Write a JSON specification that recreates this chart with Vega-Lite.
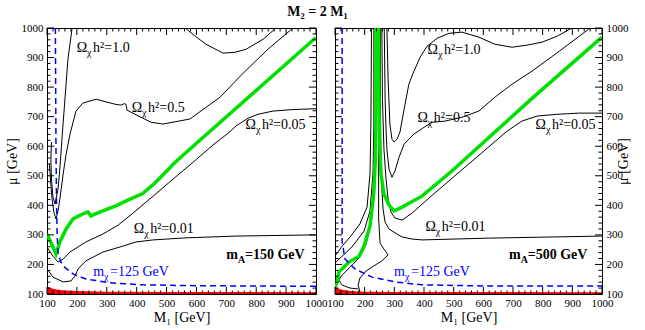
{
  "$schema": "https://vega.github.io/schema/vega-lite/v6.json",
  "padding": {"left": 4, "top": 4, "right": 0, "bottom": 2},
  "title": {"text": "M₂ = 2 M₁", "font": "Liberation Serif", "fontSize": 14, "fontWeight": "bold", "anchor": "middle", "offset": 3, "color": "black"},
  "spacing": 19,
  "bounds": "flush",
  "datasets": {
    "tickvals": [
      {"v":100,"major":true},{"v":120,"major":false},{"v":140,"major":false},{"v":160,"major":false},{"v":180,"major":false},
      {"v":200,"major":true},{"v":220,"major":false},{"v":240,"major":false},{"v":260,"major":false},{"v":280,"major":false},
      {"v":300,"major":true},{"v":320,"major":false},{"v":340,"major":false},{"v":360,"major":false},{"v":380,"major":false},
      {"v":400,"major":true},{"v":420,"major":false},{"v":440,"major":false},{"v":460,"major":false},{"v":480,"major":false},
      {"v":500,"major":true},{"v":520,"major":false},{"v":540,"major":false},{"v":560,"major":false},{"v":580,"major":false},
      {"v":600,"major":true},{"v":620,"major":false},{"v":640,"major":false},{"v":660,"major":false},{"v":680,"major":false},
      {"v":700,"major":true},{"v":720,"major":false},{"v":740,"major":false},{"v":760,"major":false},{"v":780,"major":false},
      {"v":800,"major":true},{"v":820,"major":false},{"v":840,"major":false},{"v":860,"major":false},{"v":880,"major":false},
      {"v":900,"major":true},{"v":920,"major":false},{"v":940,"major":false},{"v":960,"major":false},{"v":980,"major":false},
      {"v":1000,"major":true}
    ],
    "lep": [
      {"panel":"L","M1":100,"mu":125},{"panel":"L","M1":120,"mu":118},{"panel":"L","M1":150,"mu":113},{"panel":"L","M1":200,"mu":110},{"panel":"L","M1":300,"mu":108},{"panel":"L","M1":500,"mu":107},{"panel":"L","M1":1000,"mu":106},
      {"panel":"R","M1":100,"mu":124},{"panel":"R","M1":120,"mu":115},{"panel":"R","M1":150,"mu":110},{"panel":"R","M1":200,"mu":108},{"panel":"R","M1":300,"mu":107},{"panel":"R","M1":1000,"mu":106}
    ],
    "contours": [
      {"panel":"L","curve":"1.0a","ord":1,"M1":184,"mu":1000},{"panel":"L","curve":"1.0a","ord":2,"M1":170,"mu":894},{"panel":"L","curve":"1.0a","ord":3,"M1":160,"mu":759},{"panel":"L","curve":"1.0a","ord":4,"M1":150,"mu":624},{"panel":"L","curve":"1.0a","ord":5,"M1":143,"mu":523},{"panel":"L","curve":"1.0a","ord":6,"M1":137,"mu":455},{"panel":"L","curve":"1.0a","ord":7,"M1":130,"mu":421},{"panel":"L","curve":"1.0a","ord":8,"M1":127,"mu":404},{"panel":"L","curve":"1.0a","ord":9,"M1":120,"mu":428},{"panel":"L","curve":"1.0a","ord":10,"M1":115,"mu":489},{"panel":"L","curve":"1.0a","ord":11,"M1":113,"mu":556},{"panel":"L","curve":"1.0a","ord":12,"M1":115,"mu":614},
      {"panel":"L","curve":"1.0b","ord":1,"M1":562,"mu":1000},{"panel":"L","curve":"1.0b","ord":2,"M1":595,"mu":973},{"panel":"L","curve":"1.0b","ord":3,"M1":632,"mu":945},{"panel":"L","curve":"1.0b","ord":4,"M1":689,"mu":915},{"panel":"L","curve":"1.0b","ord":5,"M1":729,"mu":918},{"panel":"L","curve":"1.0b","ord":6,"M1":766,"mu":928},{"panel":"L","curve":"1.0b","ord":7,"M1":823,"mu":962},{"panel":"L","curve":"1.0b","ord":8,"M1":866,"mu":1000},
      {"panel":"L","curve":"0.5","ord":1,"M1":923,"mu":1000},{"panel":"L","curve":"0.5","ord":2,"M1":839,"mu":928},{"panel":"L","curve":"0.5","ord":3,"M1":756,"mu":847},{"panel":"L","curve":"0.5","ord":4,"M1":679,"mu":766},{"panel":"L","curve":"0.5","ord":5,"M1":578,"mu":692},{"panel":"L","curve":"0.5","ord":6,"M1":488,"mu":675},{"panel":"L","curve":"0.5","ord":7,"M1":448,"mu":681},{"panel":"L","curve":"0.5","ord":8,"M1":381,"mu":715},{"panel":"L","curve":"0.5","ord":9,"M1":368,"mu":722},{"panel":"L","curve":"0.5","ord":10,"M1":364,"mu":742},{"panel":"L","curve":"0.5","ord":11,"M1":358,"mu":744},{"panel":"L","curve":"0.5","ord":12,"M1":348,"mu":739},{"panel":"L","curve":"0.5","ord":13,"M1":328,"mu":742},{"panel":"L","curve":"0.5","ord":14,"M1":264,"mu":759},{"panel":"L","curve":"0.5","ord":15,"M1":220,"mu":746},{"panel":"L","curve":"0.5","ord":16,"M1":197,"mu":719},{"panel":"L","curve":"0.5","ord":17,"M1":177,"mu":641},{"panel":"L","curve":"0.5","ord":18,"M1":164,"mu":573},{"panel":"L","curve":"0.5","ord":19,"M1":154,"mu":506},{"panel":"L","curve":"0.5","ord":20,"M1":143,"mu":421},{"panel":"L","curve":"0.5","ord":21,"M1":137,"mu":381},{"panel":"L","curve":"0.5","ord":22,"M1":130,"mu":354},{"panel":"L","curve":"0.5","ord":23,"M1":123,"mu":377},{"panel":"L","curve":"0.5","ord":24,"M1":117,"mu":421},{"panel":"L","curve":"0.5","ord":25,"M1":112,"mu":482},{"panel":"L","curve":"0.5","ord":26,"M1":108,"mu":539},
      {"panel":"L","curve":"0.05","ord":1,"M1":100,"mu":259},{"panel":"L","curve":"0.05","ord":2,"M1":120,"mu":228},{"panel":"L","curve":"0.05","ord":3,"M1":137,"mu":208},{"panel":"L","curve":"0.05","ord":4,"M1":154,"mu":218},{"panel":"L","curve":"0.05","ord":5,"M1":177,"mu":242},{"panel":"L","curve":"0.05","ord":6,"M1":230,"mu":276},{"panel":"L","curve":"0.05","ord":7,"M1":287,"mu":303},{"panel":"L","curve":"0.05","ord":8,"M1":338,"mu":333},{"panel":"L","curve":"0.05","ord":9,"M1":388,"mu":374},{"panel":"L","curve":"0.05","ord":10,"M1":455,"mu":431},{"panel":"L","curve":"0.05","ord":11,"M1":522,"mu":489},{"panel":"L","curve":"0.05","ord":12,"M1":589,"mu":546},{"panel":"L","curve":"0.05","ord":13,"M1":655,"mu":604},{"panel":"L","curve":"0.05","ord":14,"M1":706,"mu":644},{"panel":"L","curve":"0.05","ord":15,"M1":732,"mu":668},{"panel":"L","curve":"0.05","ord":16,"M1":773,"mu":695},{"panel":"L","curve":"0.05","ord":17,"M1":806,"mu":708},{"panel":"L","curve":"0.05","ord":18,"M1":856,"mu":719},{"panel":"L","curve":"0.05","ord":19,"M1":923,"mu":724},{"panel":"L","curve":"0.05","ord":20,"M1":1000,"mu":727},
      {"panel":"L","curve":"0.01","ord":1,"M1":100,"mu":185},{"panel":"L","curve":"0.01","ord":2,"M1":120,"mu":157},{"panel":"L","curve":"0.01","ord":3,"M1":154,"mu":141},{"panel":"L","curve":"0.01","ord":4,"M1":180,"mu":144},{"panel":"L","curve":"0.01","ord":5,"M1":194,"mu":161},{"panel":"L","curve":"0.01","ord":6,"M1":204,"mu":185},{"panel":"L","curve":"0.01","ord":7,"M1":230,"mu":212},{"panel":"L","curve":"0.01","ord":8,"M1":287,"mu":242},{"panel":"L","curve":"0.01","ord":9,"M1":344,"mu":259},{"panel":"L","curve":"0.01","ord":10,"M1":398,"mu":276},{"panel":"L","curve":"0.01","ord":11,"M1":455,"mu":283},{"panel":"L","curve":"0.01","ord":12,"M1":565,"mu":290},{"panel":"L","curve":"0.01","ord":13,"M1":732,"mu":296},{"panel":"L","curve":"0.01","ord":14,"M1":1000,"mu":300},
      {"panel":"R","curve":"1.0L","ord":1,"M1":100,"mu":228},{"panel":"R","curve":"1.0L","ord":2,"M1":124,"mu":262},{"panel":"R","curve":"1.0L","ord":3,"M1":151,"mu":293},{"panel":"R","curve":"1.0L","ord":4,"M1":184,"mu":337},{"panel":"R","curve":"1.0L","ord":5,"M1":208,"mu":394},{"panel":"R","curve":"1.0L","ord":6,"M1":218,"mu":506},{"panel":"R","curve":"1.0L","ord":7,"M1":221,"mu":675},{"panel":"R","curve":"1.0L","ord":8,"M1":223,"mu":1000},
      {"panel":"R","curve":"0.5L","ord":1,"M1":100,"mu":205},{"panel":"R","curve":"0.5L","ord":2,"M1":157,"mu":259},{"panel":"R","curve":"0.5L","ord":3,"M1":198,"mu":313},{"panel":"R","curve":"0.5L","ord":4,"M1":218,"mu":381},{"panel":"R","curve":"0.5L","ord":5,"M1":228,"mu":506},{"panel":"R","curve":"0.5L","ord":6,"M1":231,"mu":675},{"panel":"R","curve":"0.5L","ord":7,"M1":231,"mu":1000},
      {"panel":"R","curve":"0.05L","ord":1,"M1":241,"mu":1000},{"panel":"R","curve":"0.05L","ord":2,"M1":240,"mu":759},{"panel":"R","curve":"0.05L","ord":3,"M1":238,"mu":556},{"panel":"R","curve":"0.05L","ord":4,"M1":231,"mu":421},{"panel":"R","curve":"0.05L","ord":5,"M1":221,"mu":337},{"panel":"R","curve":"0.05L","ord":6,"M1":205,"mu":269},{"panel":"R","curve":"0.05L","ord":7,"M1":184,"mu":225},{"panel":"R","curve":"0.05L","ord":8,"M1":151,"mu":191},{"panel":"R","curve":"0.05L","ord":9,"M1":124,"mu":164},{"panel":"R","curve":"0.05L","ord":10,"M1":113,"mu":147},{"panel":"R","curve":"0.05L","ord":11,"M1":124,"mu":130},{"panel":"R","curve":"0.05L","ord":12,"M1":151,"mu":120},{"panel":"R","curve":"0.05L","ord":13,"M1":178,"mu":117},
      {"panel":"R","curve":"0.01L","ord":1,"M1":184,"mu":107},{"panel":"R","curve":"0.01L","ord":2,"M1":178,"mu":130},{"panel":"R","curve":"0.01L","ord":3,"M1":184,"mu":154},{"panel":"R","curve":"0.01L","ord":4,"M1":205,"mu":178},{"panel":"R","curve":"0.01L","ord":5,"M1":231,"mu":195},{"panel":"R","curve":"0.01L","ord":6,"M1":258,"mu":212},{"panel":"R","curve":"0.01L","ord":7,"M1":279,"mu":232},{"panel":"R","curve":"0.01L","ord":8,"M1":265,"mu":252},{"panel":"R","curve":"0.01L","ord":9,"M1":252,"mu":272},{"panel":"R","curve":"0.01L","ord":10,"M1":247,"mu":354},{"panel":"R","curve":"0.01L","ord":11,"M1":247,"mu":590},{"panel":"R","curve":"0.01L","ord":12,"M1":247,"mu":1000},
      {"panel":"R","curve":"0.01R","ord":1,"M1":1000,"mu":296},{"panel":"R","curve":"0.01R","ord":2,"M1":619,"mu":289},{"panel":"R","curve":"0.01R","ord":3,"M1":505,"mu":286},{"panel":"R","curve":"0.01R","ord":4,"M1":393,"mu":283},{"panel":"R","curve":"0.01R","ord":5,"M1":360,"mu":286},{"panel":"R","curve":"0.01R","ord":6,"M1":326,"mu":293},{"panel":"R","curve":"0.01R","ord":7,"M1":309,"mu":303},{"panel":"R","curve":"0.01R","ord":8,"M1":282,"mu":320},{"panel":"R","curve":"0.01R","ord":9,"M1":269,"mu":343},{"panel":"R","curve":"0.01R","ord":10,"M1":262,"mu":387},{"panel":"R","curve":"0.01R","ord":11,"M1":258,"mu":455},{"panel":"R","curve":"0.01R","ord":12,"M1":255,"mu":556},{"panel":"R","curve":"0.01R","ord":13,"M1":253,"mu":759},{"panel":"R","curve":"0.01R","ord":14,"M1":253,"mu":1000},
      {"panel":"R","curve":"0.05R","ord":1,"M1":258,"mu":1000},{"panel":"R","curve":"0.05R","ord":2,"M1":260,"mu":759},{"panel":"R","curve":"0.05R","ord":3,"M1":265,"mu":590},{"panel":"R","curve":"0.05R","ord":4,"M1":272,"mu":489},{"panel":"R","curve":"0.05R","ord":5,"M1":279,"mu":421},{"panel":"R","curve":"0.05R","ord":6,"M1":289,"mu":377},{"panel":"R","curve":"0.05R","ord":7,"M1":302,"mu":357},{"panel":"R","curve":"0.05R","ord":8,"M1":326,"mu":350},{"panel":"R","curve":"0.05R","ord":9,"M1":360,"mu":374},{"panel":"R","curve":"0.05R","ord":10,"M1":417,"mu":425},{"panel":"R","curve":"0.05R","ord":11,"M1":538,"mu":529},{"panel":"R","curve":"0.05R","ord":12,"M1":629,"mu":607},{"panel":"R","curve":"0.05R","ord":13,"M1":680,"mu":651},{"panel":"R","curve":"0.05R","ord":14,"M1":730,"mu":685},{"panel":"R","curve":"0.05R","ord":15,"M1":781,"mu":702},{"panel":"R","curve":"0.05R","ord":16,"M1":848,"mu":708},{"panel":"R","curve":"0.05R","ord":17,"M1":923,"mu":712},{"panel":"R","curve":"0.05R","ord":18,"M1":1000,"mu":712},
      {"panel":"R","curve":"0.5R","ord":1,"M1":266,"mu":1000},{"panel":"R","curve":"0.5R","ord":2,"M1":269,"mu":759},{"panel":"R","curve":"0.5R","ord":3,"M1":272,"mu":658},{"panel":"R","curve":"0.5R","ord":4,"M1":275,"mu":590},{"panel":"R","curve":"0.5R","ord":5,"M1":282,"mu":523},{"panel":"R","curve":"0.5R","ord":6,"M1":292,"mu":495},{"panel":"R","curve":"0.5R","ord":7,"M1":302,"mu":516},{"panel":"R","curve":"0.5R","ord":8,"M1":316,"mu":563},{"panel":"R","curve":"0.5R","ord":9,"M1":333,"mu":607},{"panel":"R","curve":"0.5R","ord":10,"M1":366,"mu":641},{"panel":"R","curve":"0.5R","ord":11,"M1":400,"mu":664},{"panel":"R","curve":"0.5R","ord":12,"M1":427,"mu":681},{"panel":"R","curve":"0.5R","ord":13,"M1":471,"mu":685},{"panel":"R","curve":"0.5R","ord":14,"M1":528,"mu":698},{"panel":"R","curve":"0.5R","ord":15,"M1":585,"mu":719},{"panel":"R","curve":"0.5R","ord":16,"M1":639,"mu":766},{"panel":"R","curve":"0.5R","ord":17,"M1":697,"mu":810},{"panel":"R","curve":"0.5R","ord":18,"M1":764,"mu":854},{"panel":"R","curve":"0.5R","ord":19,"M1":865,"mu":928},{"panel":"R","curve":"0.5R","ord":20,"M1":960,"mu":1000},
      {"panel":"R","curve":"1.0R","ord":1,"M1":275,"mu":1000},{"panel":"R","curve":"1.0R","ord":2,"M1":279,"mu":827},{"panel":"R","curve":"1.0R","ord":3,"M1":285,"mu":675},{"panel":"R","curve":"1.0R","ord":4,"M1":292,"mu":624},{"panel":"R","curve":"1.0R","ord":5,"M1":299,"mu":614},{"panel":"R","curve":"1.0R","ord":6,"M1":309,"mu":624},{"panel":"R","curve":"1.0R","ord":7,"M1":319,"mu":648},{"panel":"R","curve":"1.0R","ord":8,"M1":333,"mu":725},{"panel":"R","curve":"1.0R","ord":9,"M1":349,"mu":810},{"panel":"R","curve":"1.0R","ord":10,"M1":366,"mu":854},{"panel":"R","curve":"1.0R","ord":11,"M1":387,"mu":901},{"panel":"R","curve":"1.0R","ord":12,"M1":410,"mu":938},{"panel":"R","curve":"1.0R","ord":13,"M1":444,"mu":965},{"panel":"R","curve":"1.0R","ord":14,"M1":484,"mu":982},{"panel":"R","curve":"1.0R","ord":15,"M1":528,"mu":986},{"panel":"R","curve":"1.0R","ord":16,"M1":585,"mu":969},{"panel":"R","curve":"1.0R","ord":17,"M1":639,"mu":945},{"panel":"R","curve":"1.0R","ord":18,"M1":697,"mu":935},{"panel":"R","curve":"1.0R","ord":19,"M1":747,"mu":942},{"panel":"R","curve":"1.0R","ord":20,"M1":798,"mu":952},{"panel":"R","curve":"1.0R","ord":21,"M1":848,"mu":972},{"panel":"R","curve":"1.0R","ord":22,"M1":899,"mu":1000}
    ],
    "relic": [
      {"panel":"L","curve":"g","ord":1,"M1":100,"mu":303},{"panel":"L","curve":"g","ord":2,"M1":115,"mu":270},{"panel":"L","curve":"g","ord":3,"M1":130,"mu":235},{"panel":"L","curve":"g","ord":4,"M1":143,"mu":276},{"panel":"L","curve":"g","ord":5,"M1":164,"mu":320},{"panel":"L","curve":"g","ord":6,"M1":187,"mu":354},{"panel":"L","curve":"g","ord":7,"M1":210,"mu":366},{"panel":"L","curve":"g","ord":8,"M1":227,"mu":374},{"panel":"L","curve":"g","ord":9,"M1":237,"mu":378},{"panel":"L","curve":"g","ord":10,"M1":247,"mu":364},{"panel":"L","curve":"g","ord":11,"M1":260,"mu":370},{"panel":"L","curve":"g","ord":12,"M1":287,"mu":381},{"panel":"L","curve":"g","ord":13,"M1":330,"mu":398},{"panel":"L","curve":"g","ord":14,"M1":378,"mu":421},{"panel":"L","curve":"g","ord":15,"M1":420,"mu":440},{"panel":"L","curve":"g","ord":16,"M1":455,"mu":470},{"panel":"L","curve":"g","ord":17,"M1":490,"mu":505},{"panel":"L","curve":"g","ord":18,"M1":528,"mu":545},{"panel":"L","curve":"g","ord":19,"M1":600,"mu":610},{"panel":"L","curve":"g","ord":20,"M1":1000,"mu":968},
      {"panel":"R","curve":"gL","ord":1,"M1":100,"mu":124},{"panel":"R","curve":"gL","ord":2,"M1":107,"mu":141},{"panel":"R","curve":"gL","ord":3,"M1":113,"mu":174},{"panel":"R","curve":"gL","ord":4,"M1":147,"mu":208},{"panel":"R","curve":"gL","ord":5,"M1":181,"mu":228},{"panel":"R","curve":"gL","ord":6,"M1":198,"mu":262},{"panel":"R","curve":"gL","ord":7,"M1":218,"mu":330},{"panel":"R","curve":"gL","ord":8,"M1":231,"mu":445},{"panel":"R","curve":"gL","ord":9,"M1":236,"mu":556},{"panel":"R","curve":"gL","ord":10,"M1":238,"mu":759},{"panel":"R","curve":"gL","ord":11,"M1":238,"mu":1000},
      {"panel":"R","curve":"gR","ord":1,"M1":247,"mu":1000},{"panel":"R","curve":"gR","ord":2,"M1":248,"mu":759},{"panel":"R","curve":"gR","ord":3,"M1":250,"mu":624},{"panel":"R","curve":"gR","ord":4,"M1":255,"mu":506},{"panel":"R","curve":"gR","ord":5,"M1":265,"mu":438},{"panel":"R","curve":"gR","ord":6,"M1":282,"mu":401},{"panel":"R","curve":"gR","ord":7,"M1":299,"mu":381},{"panel":"R","curve":"gR","ord":8,"M1":326,"mu":394},{"panel":"R","curve":"gR","ord":9,"M1":393,"mu":431},{"panel":"R","curve":"gR","ord":10,"M1":494,"mu":516},{"panel":"R","curve":"gR","ord":11,"M1":764,"mu":762},{"panel":"R","curve":"gR","ord":12,"M1":1000,"mu":969}
    ],
    "mchi": [
      {"panel":"L","ord":1,"M1":128,"mu":1000},{"panel":"L","ord":2,"M1":130,"mu":600},{"panel":"L","ord":3,"M1":132,"mu":400},{"panel":"L","ord":4,"M1":134,"mu":300},{"panel":"L","ord":5,"M1":137,"mu":240},{"panel":"L","ord":6,"M1":145,"mu":212},{"panel":"L","ord":7,"M1":154,"mu":195},{"panel":"L","ord":8,"M1":187,"mu":168},{"panel":"L","ord":9,"M1":230,"mu":151},{"panel":"L","ord":10,"M1":311,"mu":138},{"panel":"L","ord":11,"M1":421,"mu":131},{"panel":"L","ord":12,"M1":600,"mu":128},{"panel":"L","ord":13,"M1":1000,"mu":126},
      {"panel":"R","ord":1,"M1":124,"mu":1000},{"panel":"R","ord":2,"M1":124,"mu":556},{"panel":"R","ord":3,"M1":124,"mu":276},{"panel":"R","ord":4,"M1":134,"mu":218},{"panel":"R","ord":5,"M1":167,"mu":185},{"panel":"R","ord":6,"M1":225,"mu":157},{"panel":"R","ord":7,"M1":302,"mu":141},{"panel":"R","ord":8,"M1":393,"mu":131},{"panel":"R","ord":9,"M1":619,"mu":127},{"panel":"R","ord":10,"M1":1000,"mu":127}
    ],
    "labels": [
      {"panel":"L","kind":"omega","M1":234,"mu":918,"pre":"Ω","sub":"χ","post":"h²=1.0"},
      {"panel":"L","kind":"omega","M1":418,"mu":715,"pre":"Ω","sub":"χ","post":"h²=0.5"},
      {"panel":"L","kind":"omega","M1":799,"mu":658,"pre":"Ω","sub":"χ","post":"h²=0.05"},
      {"panel":"L","kind":"omega","M1":425,"mu":306,"pre":"Ω","sub":"χ","post":"h²=0.01"},
      {"panel":"L","kind":"mchi","M1":291,"mu":161,"pre":"m","sub":"χ","post":"=125 GeV"},
      {"panel":"L","kind":"ma","M1":739,"mu":218,"pre":"m","sub":"A","post":"=150 GeV"},
      {"panel":"R","kind":"omega","M1":447,"mu":911,"pre":"Ω","sub":"χ","post":"h²=1.0"},
      {"panel":"R","kind":"omega","M1":413,"mu":681,"pre":"Ω","sub":"χ","post":"h²=0.5"},
      {"panel":"R","kind":"omega","M1":811,"mu":658,"pre":"Ω","sub":"χ","post":"h²=0.05"},
      {"panel":"R","kind":"omega","M1":440,"mu":313,"pre":"Ω","sub":"χ","post":"h²=0.01"},
      {"panel":"R","kind":"mchi","M1":336,"mu":161,"pre":"m","sub":"χ","post":"=125 GeV"},
      {"panel":"R","kind":"ma","M1":726,"mu":218,"pre":"m","sub":"A","post":"=500 GeV"}
    ]
  },
  "hconcat": [
    {
      "width": 269, "height": 266,
      "resolve": {"axis": {"x": "independent", "y": "independent"}},
      "layer": [
        {"data": {"name": "lep"}, "transform": [{"filter": "datum.panel === 'L'"}],
         "mark": {"type": "area", "color": "#ff0000", "clip": true},
         "encoding": {
           "x": {"field": "M1", "type": "quantitative", "scale": {"domain": [100, 1000], "nice": false, "zero": false},
                 "axis": {"orient": "bottom", "format": "d", "values": [100,200,300,400,500,600,700,800,900,1000], "ticks": false, "labelPadding": 3, "title": "M₁  [GeV]", "titlePadding": 2}},
           "y": {"field": "mu", "type": "quantitative", "scale": {"domain": [100, 1000], "nice": false, "zero": false},
                 "axis": {"orient": "left", "format": "d", "values": [100,200,300,400,500,600,700,800,900,1000], "ticks": false, "labelPadding": 4, "title": "μ  [GeV]", "titlePadding": 2}},
           "y2": {"datum": 100}
         }},
        {"data": {"name": "contours"}, "transform": [{"filter": "datum.panel === 'L'"}],
         "mark": {"type": "line", "color": "black", "strokeWidth": 1, "clip": true},
         "encoding": {
           "x": {"field": "M1", "type": "quantitative", "axis": null},
           "y": {"field": "mu", "type": "quantitative", "axis": null},
           "detail": {"field": "curve", "type": "nominal"},
           "order": {"field": "ord", "type": "quantitative"}
         }},
        {"data": {"name": "relic"}, "transform": [{"filter": "datum.panel === 'L'"}],
         "mark": {"type": "line", "color": "#00e000", "strokeWidth": 3.5, "clip": true},
         "encoding": {
           "x": {"field": "M1", "type": "quantitative", "axis": null},
           "y": {"field": "mu", "type": "quantitative", "axis": null},
           "detail": {"field": "curve", "type": "nominal"},
           "order": {"field": "ord", "type": "quantitative"}
         }},
        {"data": {"name": "mchi"}, "transform": [{"filter": "datum.panel === 'L'"}],
         "mark": {"type": "line", "color": "#0000ff", "strokeWidth": 1.5, "strokeDash": [6, 4], "clip": true},
         "encoding": {
           "x": {"field": "M1", "type": "quantitative", "axis": null},
           "y": {"field": "mu", "type": "quantitative", "axis": null},
           "order": {"field": "ord", "type": "quantitative"}
         }},
        {"data": {"name": "tickvals"}, "transform": [{"filter": "datum.major"}],
         "mark": {"type": "rule", "color": "black", "strokeWidth": 1},
         "encoding": {"x": {"field": "v", "type": "quantitative", "axis": null}, "y": {"datum": 100, "type": "quantitative", "axis": null}, "y2": {"datum": 123.7}}},
        {"data": {"name": "tickvals"}, "transform": [{"filter": "!datum.major"}],
         "mark": {"type": "rule", "color": "black", "strokeWidth": 1},
         "encoding": {"x": {"field": "v", "type": "quantitative", "axis": null}, "y": {"datum": 100, "type": "quantitative", "axis": null}, "y2": {"datum": 111.8}}},
        {"data": {"name": "tickvals"}, "transform": [{"filter": "datum.major"}],
         "mark": {"type": "rule", "color": "black", "strokeWidth": 1},
         "encoding": {"x": {"field": "v", "type": "quantitative", "axis": null}, "y": {"datum": 1000, "type": "quantitative", "axis": null}, "y2": {"datum": 976.3}}},
        {"data": {"name": "tickvals"}, "transform": [{"filter": "!datum.major"}],
         "mark": {"type": "rule", "color": "black", "strokeWidth": 1},
         "encoding": {"x": {"field": "v", "type": "quantitative", "axis": null}, "y": {"datum": 1000, "type": "quantitative", "axis": null}, "y2": {"datum": 988.2}}},
        {"data": {"name": "tickvals"}, "transform": [{"filter": "datum.major"}],
         "mark": {"type": "rule", "color": "black", "strokeWidth": 1},
         "encoding": {"y": {"field": "v", "type": "quantitative", "axis": null}, "x": {"datum": 100, "type": "quantitative", "axis": null}, "x2": {"datum": 123.4}}},
        {"data": {"name": "tickvals"}, "transform": [{"filter": "!datum.major"}],
         "mark": {"type": "rule", "color": "black", "strokeWidth": 1},
         "encoding": {"y": {"field": "v", "type": "quantitative", "axis": null}, "x": {"datum": 100, "type": "quantitative", "axis": null}, "x2": {"datum": 111.7}}},
        {"data": {"name": "tickvals"}, "transform": [{"filter": "datum.major"}],
         "mark": {"type": "rule", "color": "black", "strokeWidth": 1},
         "encoding": {"y": {"field": "v", "type": "quantitative", "axis": null}, "x": {"datum": 1000, "type": "quantitative", "axis": null}, "x2": {"datum": 976.6}}},
        {"data": {"name": "tickvals"}, "transform": [{"filter": "!datum.major"}],
         "mark": {"type": "rule", "color": "black", "strokeWidth": 1},
         "encoding": {"y": {"field": "v", "type": "quantitative", "axis": null}, "x": {"datum": 1000, "type": "quantitative", "axis": null}, "x2": {"datum": 988.3}}},
        {"data": {"name": "labels"}, "transform": [{"filter": "datum.panel === 'L' && datum.kind !== 'ma'"}],
         "mark": {"type": "text", "align": "right", "baseline": "alphabetic", "font": "Liberation Serif", "fontSize": 14},
         "encoding": {
           "x": {"field": "M1", "type": "quantitative", "axis": null},
           "y": {"field": "mu", "type": "quantitative", "axis": null},
           "text": {"field": "pre"},
           "color": {"field": "kind", "type": "nominal", "scale": {"domain": ["omega", "mchi"], "range": ["black", "#0000ff"]}, "legend": null}
         }},
        {"data": {"name": "labels"}, "transform": [{"filter": "datum.panel === 'L' && datum.kind !== 'ma'"}],
         "mark": {"type": "text", "align": "left", "baseline": "alphabetic", "font": "Liberation Serif", "fontSize": 10, "dy": 4},
         "encoding": {
           "x": {"field": "M1", "type": "quantitative", "axis": null},
           "y": {"field": "mu", "type": "quantitative", "axis": null},
           "text": {"field": "sub"},
           "color": {"field": "kind", "type": "nominal", "scale": {"domain": ["omega", "mchi"], "range": ["black", "#0000ff"]}, "legend": null}
         }},
        {"data": {"name": "labels"}, "transform": [{"filter": "datum.panel === 'L' && datum.kind !== 'ma'"}],
         "mark": {"type": "text", "align": "left", "baseline": "alphabetic", "font": "Liberation Serif", "fontSize": 14, "dx": 6},
         "encoding": {
           "x": {"field": "M1", "type": "quantitative", "axis": null},
           "y": {"field": "mu", "type": "quantitative", "axis": null},
           "text": {"field": "post"},
           "color": {"field": "kind", "type": "nominal", "scale": {"domain": ["omega", "mchi"], "range": ["black", "#0000ff"]}, "legend": null}
         }},
        {"data": {"name": "labels"}, "transform": [{"filter": "datum.panel === 'L' && datum.kind === 'ma'"}],
         "mark": {"type": "text", "align": "right", "baseline": "alphabetic", "font": "Liberation Serif", "fontSize": 14, "fontWeight": "bold", "color": "black"},
         "encoding": {
           "x": {"field": "M1", "type": "quantitative", "axis": null},
           "y": {"field": "mu", "type": "quantitative", "axis": null},
           "text": {"field": "pre"}
         }},
        {"data": {"name": "labels"}, "transform": [{"filter": "datum.panel === 'L' && datum.kind === 'ma'"}],
         "mark": {"type": "text", "align": "left", "baseline": "alphabetic", "font": "Liberation Serif", "fontSize": 10, "fontWeight": "bold", "dy": 4, "color": "black"},
         "encoding": {
           "x": {"field": "M1", "type": "quantitative", "axis": null},
           "y": {"field": "mu", "type": "quantitative", "axis": null},
           "text": {"field": "sub"}
         }},
        {"data": {"name": "labels"}, "transform": [{"filter": "datum.panel === 'L' && datum.kind === 'ma'"}],
         "mark": {"type": "text", "align": "left", "baseline": "alphabetic", "font": "Liberation Serif", "fontSize": 14, "fontWeight": "bold", "dx": 7, "color": "black"},
         "encoding": {
           "x": {"field": "M1", "type": "quantitative", "axis": null},
           "y": {"field": "mu", "type": "quantitative", "axis": null},
           "text": {"field": "post"}
         }}
      ]
    },
    {
      "width": 267, "height": 266,
      "resolve": {"axis": {"x": "independent", "y": "independent"}},
      "layer": [
        {"data": {"name": "lep"}, "transform": [{"filter": "datum.panel === 'R'"}],
         "mark": {"type": "area", "color": "#ff0000", "clip": true},
         "encoding": {
           "x": {"field": "M1", "type": "quantitative", "scale": {"domain": [100, 1000], "nice": false, "zero": false},
                 "axis": {"orient": "bottom", "format": "d", "values": [100,200,300,400,500,600,700,800,900,1000], "ticks": false, "labelPadding": 3, "title": "M₁  [GeV]", "titlePadding": 2}},
           "y": {"field": "mu", "type": "quantitative", "scale": {"domain": [100, 1000], "nice": false, "zero": false},
                 "axis": {"orient": "right", "format": "d", "values": [100,200,300,400,500,600,700,800,900,1000], "ticks": false, "labelPadding": 4, "title": "μ  [GeV]", "titlePadding": 2, "titleAngle": 270}},
           "y2": {"datum": 100}
         }},
        {"data": {"name": "contours"}, "transform": [{"filter": "datum.panel === 'R'"}],
         "mark": {"type": "line", "color": "black", "strokeWidth": 1, "clip": true},
         "encoding": {
           "x": {"field": "M1", "type": "quantitative", "axis": null},
           "y": {"field": "mu", "type": "quantitative", "axis": null},
           "detail": {"field": "curve", "type": "nominal"},
           "order": {"field": "ord", "type": "quantitative"}
         }},
        {"data": {"name": "relic"}, "transform": [{"filter": "datum.panel === 'R'"}],
         "mark": {"type": "line", "color": "#00e000", "strokeWidth": 3.5, "clip": true},
         "encoding": {
           "x": {"field": "M1", "type": "quantitative", "axis": null},
           "y": {"field": "mu", "type": "quantitative", "axis": null},
           "detail": {"field": "curve", "type": "nominal"},
           "order": {"field": "ord", "type": "quantitative"}
         }},
        {"data": {"name": "mchi"}, "transform": [{"filter": "datum.panel === 'R'"}],
         "mark": {"type": "line", "color": "#0000ff", "strokeWidth": 1.5, "strokeDash": [6, 4], "clip": true},
         "encoding": {
           "x": {"field": "M1", "type": "quantitative", "axis": null},
           "y": {"field": "mu", "type": "quantitative", "axis": null},
           "order": {"field": "ord", "type": "quantitative"}
         }},
        {"data": {"name": "tickvals"}, "transform": [{"filter": "datum.major"}],
         "mark": {"type": "rule", "color": "black", "strokeWidth": 1},
         "encoding": {"x": {"field": "v", "type": "quantitative", "axis": null}, "y": {"datum": 100, "type": "quantitative", "axis": null}, "y2": {"datum": 123.7}}},
        {"data": {"name": "tickvals"}, "transform": [{"filter": "!datum.major"}],
         "mark": {"type": "rule", "color": "black", "strokeWidth": 1},
         "encoding": {"x": {"field": "v", "type": "quantitative", "axis": null}, "y": {"datum": 100, "type": "quantitative", "axis": null}, "y2": {"datum": 111.8}}},
        {"data": {"name": "tickvals"}, "transform": [{"filter": "datum.major"}],
         "mark": {"type": "rule", "color": "black", "strokeWidth": 1},
         "encoding": {"x": {"field": "v", "type": "quantitative", "axis": null}, "y": {"datum": 1000, "type": "quantitative", "axis": null}, "y2": {"datum": 976.3}}},
        {"data": {"name": "tickvals"}, "transform": [{"filter": "!datum.major"}],
         "mark": {"type": "rule", "color": "black", "strokeWidth": 1},
         "encoding": {"x": {"field": "v", "type": "quantitative", "axis": null}, "y": {"datum": 1000, "type": "quantitative", "axis": null}, "y2": {"datum": 988.2}}},
        {"data": {"name": "tickvals"}, "transform": [{"filter": "datum.major"}],
         "mark": {"type": "rule", "color": "black", "strokeWidth": 1},
         "encoding": {"y": {"field": "v", "type": "quantitative", "axis": null}, "x": {"datum": 100, "type": "quantitative", "axis": null}, "x2": {"datum": 123.6}}},
        {"data": {"name": "tickvals"}, "transform": [{"filter": "!datum.major"}],
         "mark": {"type": "rule", "color": "black", "strokeWidth": 1},
         "encoding": {"y": {"field": "v", "type": "quantitative", "axis": null}, "x": {"datum": 100, "type": "quantitative", "axis": null}, "x2": {"datum": 111.8}}},
        {"data": {"name": "tickvals"}, "transform": [{"filter": "datum.major"}],
         "mark": {"type": "rule", "color": "black", "strokeWidth": 1},
         "encoding": {"y": {"field": "v", "type": "quantitative", "axis": null}, "x": {"datum": 1000, "type": "quantitative", "axis": null}, "x2": {"datum": 976.4}}},
        {"data": {"name": "tickvals"}, "transform": [{"filter": "!datum.major"}],
         "mark": {"type": "rule", "color": "black", "strokeWidth": 1},
         "encoding": {"y": {"field": "v", "type": "quantitative", "axis": null}, "x": {"datum": 1000, "type": "quantitative", "axis": null}, "x2": {"datum": 988.2}}},
        {"data": {"name": "labels"}, "transform": [{"filter": "datum.panel === 'R' && datum.kind !== 'ma'"}],
         "mark": {"type": "text", "align": "right", "baseline": "alphabetic", "font": "Liberation Serif", "fontSize": 14},
         "encoding": {
           "x": {"field": "M1", "type": "quantitative", "axis": null},
           "y": {"field": "mu", "type": "quantitative", "axis": null},
           "text": {"field": "pre"},
           "color": {"field": "kind", "type": "nominal", "scale": {"domain": ["omega", "mchi"], "range": ["black", "#0000ff"]}, "legend": null}
         }},
        {"data": {"name": "labels"}, "transform": [{"filter": "datum.panel === 'R' && datum.kind !== 'ma'"}],
         "mark": {"type": "text", "align": "left", "baseline": "alphabetic", "font": "Liberation Serif", "fontSize": 10, "dy": 4},
         "encoding": {
           "x": {"field": "M1", "type": "quantitative", "axis": null},
           "y": {"field": "mu", "type": "quantitative", "axis": null},
           "text": {"field": "sub"},
           "color": {"field": "kind", "type": "nominal", "scale": {"domain": ["omega", "mchi"], "range": ["black", "#0000ff"]}, "legend": null}
         }},
        {"data": {"name": "labels"}, "transform": [{"filter": "datum.panel === 'R' && datum.kind !== 'ma'"}],
         "mark": {"type": "text", "align": "left", "baseline": "alphabetic", "font": "Liberation Serif", "fontSize": 14, "dx": 6},
         "encoding": {
           "x": {"field": "M1", "type": "quantitative", "axis": null},
           "y": {"field": "mu", "type": "quantitative", "axis": null},
           "text": {"field": "post"},
           "color": {"field": "kind", "type": "nominal", "scale": {"domain": ["omega", "mchi"], "range": ["black", "#0000ff"]}, "legend": null}
         }},
        {"data": {"name": "labels"}, "transform": [{"filter": "datum.panel === 'R' && datum.kind === 'ma'"}],
         "mark": {"type": "text", "align": "right", "baseline": "alphabetic", "font": "Liberation Serif", "fontSize": 14, "fontWeight": "bold", "color": "black"},
         "encoding": {
           "x": {"field": "M1", "type": "quantitative", "axis": null},
           "y": {"field": "mu", "type": "quantitative", "axis": null},
           "text": {"field": "pre"}
         }},
        {"data": {"name": "labels"}, "transform": [{"filter": "datum.panel === 'R' && datum.kind === 'ma'"}],
         "mark": {"type": "text", "align": "left", "baseline": "alphabetic", "font": "Liberation Serif", "fontSize": 10, "fontWeight": "bold", "dy": 4, "color": "black"},
         "encoding": {
           "x": {"field": "M1", "type": "quantitative", "axis": null},
           "y": {"field": "mu", "type": "quantitative", "axis": null},
           "text": {"field": "sub"}
         }},
        {"data": {"name": "labels"}, "transform": [{"filter": "datum.panel === 'R' && datum.kind === 'ma'"}],
         "mark": {"type": "text", "align": "left", "baseline": "alphabetic", "font": "Liberation Serif", "fontSize": 14, "fontWeight": "bold", "dx": 7, "color": "black"},
         "encoding": {
           "x": {"field": "M1", "type": "quantitative", "axis": null},
           "y": {"field": "mu", "type": "quantitative", "axis": null},
           "text": {"field": "post"}
         }}
      ]
    }
  ],
  "config": {
    "view": {"stroke": "black", "strokeWidth": 1},
    "axis": {"domain": false, "grid": false, "labelFont": "Liberation Serif", "labelFontSize": 11, "labelColor": "black", "titleFont": "Liberation Serif", "titleFontSize": 14, "titleFontWeight": "normal", "titleColor": "black", "labelFlush": false, "labelOverlap": false}
  }
}
